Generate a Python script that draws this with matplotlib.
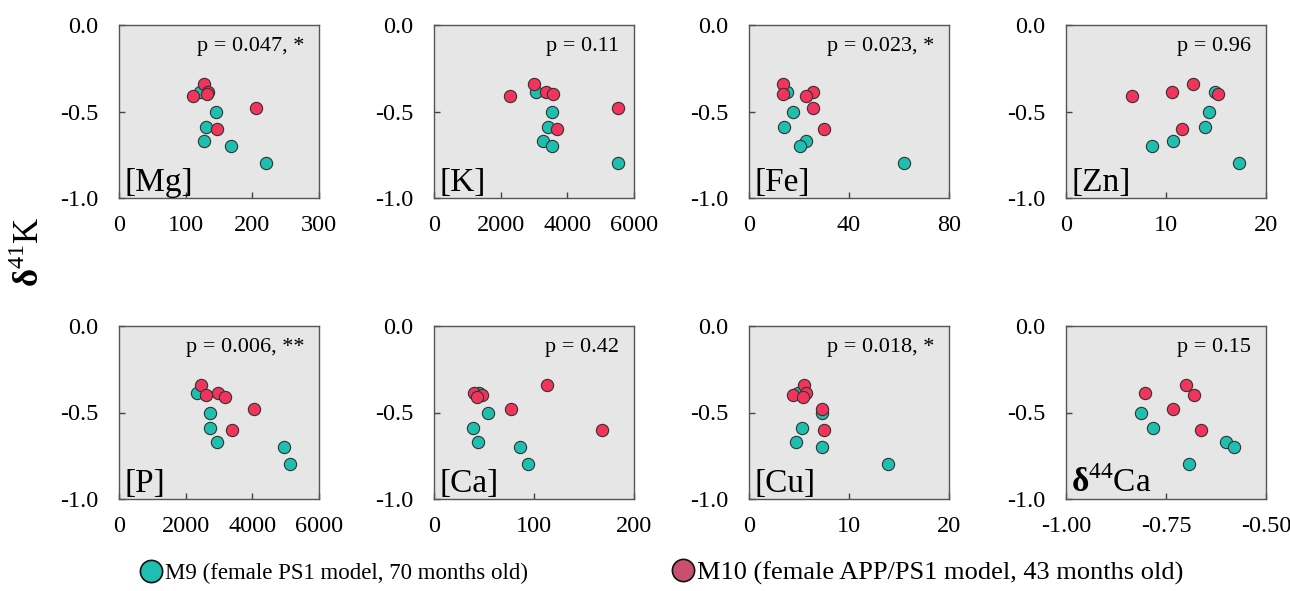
import numpy as np
import matplotlib
matplotlib.use("Agg")
import matplotlib.pyplot as plt
from matplotlib.lines import Line2D

plt.rcParams['font.family'] = ['Liberation Serif', 'DejaVu Serif']
plt.rcParams['mathtext.fontset'] = 'custom'
plt.rcParams['mathtext.rm'] = 'Liberation Serif'
plt.rcParams['mathtext.bf'] = 'Liberation Serif:bold'
plt.rcParams['axes.unicode_minus'] = False

# delta41K of each sample (same for every panel)
m9_d41k = [-0.39, -0.50, -0.59, -0.67, -0.70, -0.80]
m10_d41k = [-0.34, -0.39, -0.40, -0.41, -0.48, -0.60]

nan = np.nan
panels = ['[Mg]', '[K]', '[Fe]', '[Zn]', '[P]', '[Ca]', '[Cu]', r'$\mathbf{δ}^{44}$Ca']
pvals = ['p = 0.047, *', 'p = 0.11', 'p = 0.023, *', 'p = 0.96',
         'p = 0.006, **', 'p = 0.42', 'p = 0.018, *', 'p = 0.15']

m9_x = [
    [121, 145, 131, 127, 168, 220],
    [3050, 3530, 3420, 3260, 3530, 5520],
    [15.3, 17.5, 14.0, 22.8, 20.4, 62.1],
    [14.9, 14.3, 13.9, 10.7, 8.6, 17.3],
    [2330, 2740, 2720, 2950, 4940, 5140],
    [45, 53.7, 39.3, 44.3, 86, 94.3],
    [4.9, 7.3, 5.3, 4.7, 7.3, 13.9],
    [nan, -0.812, -0.7825, -0.60, -0.581, -0.692],
]
m10_x = [
    [127.5, 134, 132, 110.5, 205, 147.5],
    [3010, 3360, 3560, 2280, 5530, 3680],
    [13.7, 25.7, 13.5, 22.8, 25.6, 30.0],
    [12.7, 10.6, 15.2, 6.64, nan, 11.6],
    [2460, 2970, 2600, 3190, 4040, 3400],
    [113, 40.3, 48.3, 42.7, 76.7, 168.3],
    [5.5, 5.7, 4.4, 5.4, 7.3, 7.5],
    [-0.70, -0.8025, -0.68, nan, -0.7325, -0.6625],
]
xticks = [
    [0, 100, 200, 300],
    [0, 2000, 4000, 6000],
    [0, 40, 80],
    [0, 10, 20],
    [0, 2000, 4000, 6000],
    [0, 100, 200],
    [0, 10, 20],
    [-1.00, -0.75, -0.50],
]
yticks = [0.0, -0.5, -1.0]

teal = '#1fbfb0'
red = '#f2335c'
red_leg = '#c8506e'

W, H = 1290, 591
fig = plt.figure(figsize=(W / 100, H / 100), dpi=100)

lefts = [119, 434, 749, 1066]
tops = [25, 326]
aw, ah = 200, 173

for i in range(8):
    r, c = divmod(i, 4)
    ax = fig.add_axes([lefts[c] / W, 1 - (tops[r] + ah) / H, aw / W, ah / H])
    ax.set_facecolor('#e6e6e6')
    ax.scatter(m9_x[i], m9_d41k, s=78, c=teal, edgecolors='#333333', linewidths=0.8, zorder=3)
    ax.scatter(m10_x[i], m10_d41k, s=78, c=red, edgecolors='#333333', linewidths=0.8, zorder=4)
    xt = xticks[i]
    ax.set_xlim(xt[0], xt[-1])
    ax.set_ylim(-1.0, 0.0)
    ax.set_xticks(xt)
    if i == 7:
        ax.set_xticklabels(['%.2f' % v for v in xt])
    else:
        ax.set_xticklabels([str(v) for v in xt])
    ax.set_yticks(yticks)
    ax.set_yticklabels(['%.1f' % v for v in yticks])
    ax.tick_params(axis='both', direction='in', length=4, width=1, color='#444444',
                   labelsize=17.5)
    ax.tick_params(axis='x', pad=12)
    ax.tick_params(axis='y', pad=15)
    for s in ax.spines.values():
        s.set_color('#555555')
        s.set_linewidth(1.0)
    ax.text(0.925, 0.875, pvals[i], transform=ax.transAxes, ha='right', va='center', fontsize=16)
    ax.text(0.025, 0.0, panels[i], transform=ax.transAxes, ha='left', va='bottom', fontsize=24)

fig.text(30 / W, 1 - 252 / H, r'$\mathbf{δ}^{41}$K', rotation=90, ha='center', va='center',
         fontsize=25)

h9 = Line2D([], [], ls='none', marker='o', ms=16, mfc=teal, mec='#111111', mew=1.2)
h10 = Line2D([], [], ls='none', marker='o', ms=16, mfc=red_leg, mec='#111111', mew=1.2)
fig.legend([h9], ['M9 (female PS1 model, 70 months old)'],
           loc='center left', bbox_to_anchor=(139.5 / W, 1 - 573 / H), frameon=False,
           fontsize=16.5, handletextpad=0.1, handlelength=1.0, borderpad=0, borderaxespad=0)
fig.legend([h10], ['M10 (female APP/PS1 model, 43 months old)'],
           loc='center left', bbox_to_anchor=(671.8 / W, 1 - 573 / H), frameon=False,
           fontsize=19, handletextpad=0.1, handlelength=0.85, borderpad=0, borderaxespad=0)

fig.savefig('out.png', dpi=100)
